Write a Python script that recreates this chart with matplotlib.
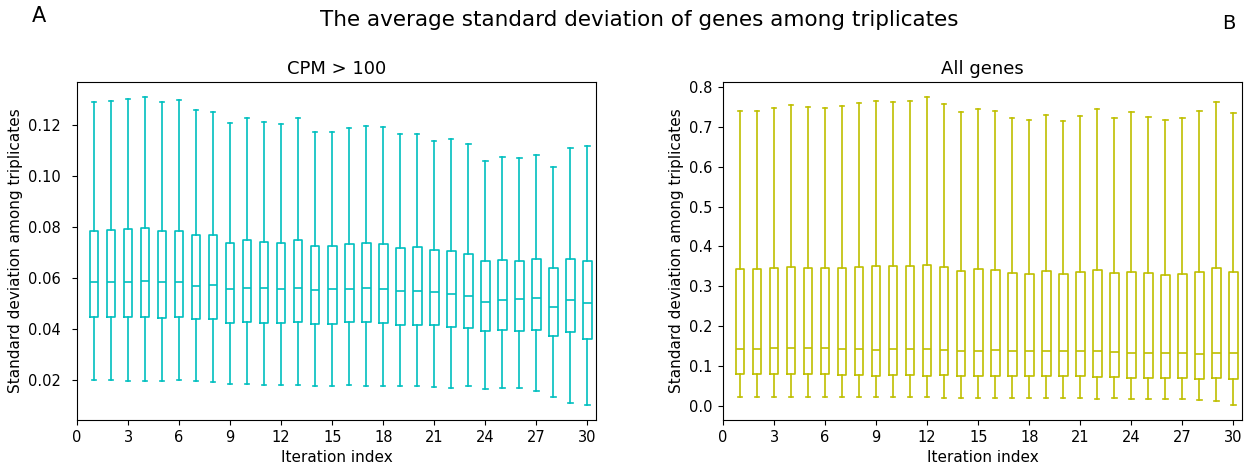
import numpy as np
import matplotlib
matplotlib.use("Agg")
import matplotlib.pyplot as plt

# iteration index 1..30
iterations = list(range(1, 31))

# CPM > 100 panel (whisker low, q1, median, q3, whisker high)
cpm_low = [0.0200, 0.0197, 0.0193, 0.0193, 0.0193, 0.0197, 0.0193, 0.0191, 0.0183, 0.0184,
           0.0180, 0.0180, 0.0180, 0.0174, 0.0174, 0.0178, 0.0175, 0.0175, 0.0174, 0.0174,
           0.0170, 0.0167, 0.0175, 0.0165, 0.0166, 0.0167, 0.0157, 0.0130, 0.0107, 0.0102]
cpm_q1 = [0.0446, 0.0446, 0.0446, 0.0446, 0.0442, 0.0445, 0.0436, 0.0436, 0.0423, 0.0427,
          0.0423, 0.0423, 0.0427, 0.0420, 0.0420, 0.0425, 0.0428, 0.0423, 0.0416, 0.0416,
          0.0416, 0.0407, 0.0403, 0.0390, 0.0394, 0.0391, 0.0395, 0.0372, 0.0385, 0.0359]
cpm_med = [0.0583, 0.0583, 0.0583, 0.0585, 0.0583, 0.0583, 0.0568, 0.0570, 0.0556, 0.0560,
           0.0560, 0.0556, 0.0560, 0.0553, 0.0555, 0.0555, 0.0560, 0.0556, 0.0547, 0.0546,
           0.0543, 0.0534, 0.0528, 0.0505, 0.0513, 0.0517, 0.0521, 0.0486, 0.0511, 0.0500]
cpm_q3 = [0.0783, 0.0786, 0.0790, 0.0794, 0.0782, 0.0785, 0.0766, 0.0766, 0.0737, 0.0747,
          0.0740, 0.0737, 0.0747, 0.0724, 0.0723, 0.0731, 0.0735, 0.0732, 0.0715, 0.0719,
          0.0710, 0.0704, 0.0694, 0.0665, 0.0668, 0.0666, 0.0675, 0.0638, 0.0675, 0.0665]
cpm_high = [0.1290, 0.1292, 0.1301, 0.1307, 0.1290, 0.1297, 0.1259, 0.1251, 0.1208, 0.1225,
            0.1210, 0.1203, 0.1226, 0.1172, 0.1172, 0.1188, 0.1196, 0.1192, 0.1162, 0.1165,
            0.1138, 0.1144, 0.1125, 0.1057, 0.1074, 0.1070, 0.1080, 0.1036, 0.1109, 0.1116]

# All genes panel
all_low = [0.0227, 0.0227, 0.0227, 0.0227, 0.0227, 0.0227, 0.0227, 0.0227, 0.0210, 0.0210,
           0.0210, 0.0210, 0.0193, 0.0193, 0.0193, 0.0193, 0.0193, 0.0193, 0.0193, 0.0193,
           0.0193, 0.0176, 0.0193, 0.0176, 0.0176, 0.0176, 0.0168, 0.0143, 0.0126, 0.0025]
all_q1 = [0.0798, 0.0798, 0.0798, 0.0798, 0.0798, 0.0798, 0.0781, 0.0781, 0.0756, 0.0781,
          0.0772, 0.0756, 0.0772, 0.0756, 0.0756, 0.0756, 0.0756, 0.0756, 0.0756, 0.0739,
          0.0739, 0.0714, 0.0714, 0.0688, 0.0688, 0.0688, 0.0705, 0.0672, 0.0688, 0.0680]
all_med = [0.1427, 0.1427, 0.1444, 0.1453, 0.1436, 0.1444, 0.1419, 0.1419, 0.1402, 0.1419,
           0.1411, 0.1411, 0.1402, 0.1369, 0.1360, 0.1385, 0.1377, 0.1377, 0.1369, 0.1360,
           0.1369, 0.1369, 0.1343, 0.1318, 0.1327, 0.1318, 0.1327, 0.1293, 0.1318, 0.1327]
all_q3 = [0.3426, 0.3426, 0.3459, 0.3484, 0.3459, 0.3468, 0.3468, 0.3493, 0.3501, 0.3518,
          0.3510, 0.3543, 0.3476, 0.3384, 0.3426, 0.3401, 0.3342, 0.3317, 0.3375, 0.3300,
          0.3359, 0.3417, 0.3333, 0.3359, 0.3333, 0.3291, 0.3308, 0.3359, 0.3459, 0.3350]
all_high = [0.7406, 0.7389, 0.7473, 0.7540, 0.7498, 0.7481, 0.7515, 0.7607, 0.7640, 0.7632,
            0.7640, 0.7741, 0.7582, 0.7364, 0.7456, 0.7397, 0.7229, 0.7170, 0.7305, 0.7145,
            0.7280, 0.7439, 0.7229, 0.7364, 0.7238, 0.7179, 0.7212, 0.7389, 0.7615, 0.7338]


def make_stats(low, q1, med, q3, high):
    stats = []
    for i in range(len(med)):
        stats.append({"whislo": low[i], "q1": q1[i], "med": med[i],
                      "q3": q3[i], "whishi": high[i], "fliers": []})
    return stats


def draw_panel(ax, stats, color, title, ypad):
    props = dict(color=color, linewidth=1.2)
    ax.bxp(stats, positions=iterations, widths=0.5, showfliers=False,
           boxprops=props, whiskerprops=props, capprops=props, medianprops=props)
    ax.set_xlim(0, 30.5)
    ax.set_xticks(range(0, 31, 3))
    ax.set_xticklabels([str(t) for t in range(0, 31, 3)])
    ax.tick_params(labelsize=10.5)
    ax.tick_params(axis="y", pad=ypad)
    ax.set_xlabel("Iteration index", fontsize=11)
    ax.set_ylabel("Standard deviation among triplicates", fontsize=11)
    ax.set_title(title, fontsize=13)


fig = plt.figure(figsize=(12.5, 4.7), dpi=100)
ax1 = fig.add_axes([0.0616, 0.1064, 0.4152, 0.719])
ax2 = fig.add_axes([0.5784, 0.1064, 0.4152, 0.719])

draw_panel(ax1, make_stats(cpm_low, cpm_q1, cpm_med, cpm_q3, cpm_high), "c", "CPM > 100", 8)
draw_panel(ax2, make_stats(all_low, all_q1, all_med, all_q3, all_high), "y", "All genes", 4)
ax1.set_yticks([0.02, 0.04, 0.06, 0.08, 0.10, 0.12])
ax1.set_yticklabels(["0.02", "0.04", "0.06", "0.08", "0.10", "0.12"])
ax2.set_yticks(np.arange(0, 0.81, 0.1))
ax2.set_yticklabels(["%.1f" % v for v in np.arange(0, 0.81, 0.1)])

fig.text(0.511, 0.958, "The average standard deviation of genes among triplicates",
         fontsize=15.5, ha="center", va="center")
fig.text(0.031, 0.967, "A", fontsize=15, va="center", ha="center")
fig.text(0.983, 0.951, "B", fontsize=14, va="center", ha="center")

fig.savefig("out.png", dpi=100)
